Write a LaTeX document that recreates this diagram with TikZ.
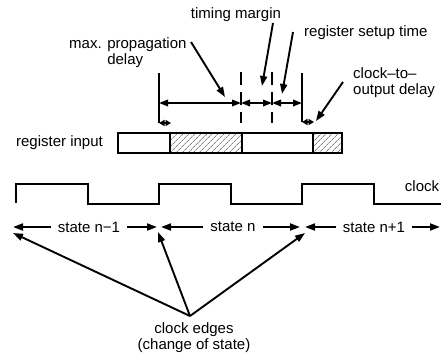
\documentclass[tikz,border=0pt]{standalone}
\usepackage{fontspec}
\setmainfont{Liberation Sans}
\usetikzlibrary{arrows.meta,patterns.meta}
\begin{document}
\begin{tikzpicture}[x=1pt,y=-1pt,
  font=\fontsize{15}{16}\selectfont,
  wire/.style={line width=2pt},
  arr/.style={line width=1.9pt,-{Triangle[length=10pt,width=7pt]}},
  dim/.style={line width=1.9pt,{Triangle[length=9pt,width=6.5pt]}-{Triangle[length=9pt,width=6.5pt]}},
  tick/.style={line width=1.9pt,{Triangle[length=5.5pt,width=6pt]}-{Triangle[length=5.5pt,width=6pt]}},
  guide/.style={line width=1.9pt},
  guidedash/.style={line width=1.9pt,dash pattern=on 13pt off 7pt},
  lbl/.style={inner sep=1pt},
  statelbl/.style={inner xsep=7pt,inner ysep=1pt},
  hatch/.style={pattern={Lines[angle=45,distance=4pt,line width=0.5pt]},pattern color=black!75},
  cell/.style={draw,line width=1.9pt}]
\useasboundingbox (0,0) rectangle (441,354);

% ---- register input bar ----
\path[hatch] (170,133) rectangle (242,153);
\path[hatch] (313,133) rectangle (342,153);
\draw[cell] (118,133) rectangle (342,153);
\draw[cell] (170,133) -- (170,153) (242,133) -- (242,153) (313,133) -- (313,153);
\node[lbl,anchor=east] (reglbl) at (104,143) {register input};

% ---- clock waveform ----
\draw[wire] (16,203) -- (16,184) -- (88,184) -- (88,204) -- (159,204) -- (159,184)
  -- (231,184) -- (231,204) -- (302,204) -- (302,184) -- (374,184) -- (374,204) -- (441,204);
\node[lbl] (clklbl) at (422,186) {clock};

% ---- timing guides ----
\draw[guide] (159,73) -- (159,123);
\draw[guide] (302,73) -- (302,122);
\draw[guidedash] (241,72) -- (241,123);
\draw[guidedash] (272,72) -- (272,123);

\coordinate (dL) at (159,103);
\coordinate (dP) at (241,103);
\coordinate (dM) at (272,103);
\coordinate (dR) at (302,103);
\draw[dim] (dL) -- (dP);
\draw[dim] (dP) -- (dM);
\draw[dim] (dM) -- (dR);

\coordinate (kL0) at (159,123);
\coordinate (kL1) at (171,123);
\coordinate (kR0) at (302,122);
\coordinate (kR1) at (314,122);
\draw[tick] (kL0) -- (kL1);
\draw[tick] (kR0) -- (kR1);

% ---- labels with pointers ----
\node[lbl,anchor=west,align=left] (prop) at (68,53) {max. propagation\\\hphantom{max. }delay};
\coordinate (propA) at (191,42);
\coordinate (propT) at (225,97);
\draw[arr] (propA) -- (propT);

\node[lbl] (margin) at (236,15) {timing margin};
\coordinate (marginA) at (273,23);
\coordinate (marginT) at (262,86);
\draw[arr] (marginA) -- (marginT);

\node[lbl,anchor=west] (setup) at (303,33) {register setup time};
\coordinate (setupA) at (293,32);
\coordinate (setupT) at (282,94);
\draw[arr] (setupA) -- (setupT);

\node[lbl,anchor=west,align=left] (c2o) at (352,83) {clock–to–\\output delay};
\coordinate (c2oA) at (343,82);
\coordinate (c2oT) at (316,121);
\draw[arr] (c2oA) -- (c2oT);

% ---- states ----
\coordinate (s0) at (13,227);
\coordinate (s1) at (157,227);
\coordinate (s2) at (161,227);
\coordinate (s3) at (300,227);
\coordinate (s4) at (305,227);
\coordinate (s5) at (440,227);
\node[statelbl] (stA) at (89,227) {state n−1};
\node[statelbl] (stB) at (233,227) {state n};
\node[statelbl] (stC) at (374,227) {state n+1};
\draw[arr] (stA) -- (s0);
\draw[arr] (stA) -- (s1);
\draw[arr] (stB) -- (s2);
\draw[arr] (stB) -- (s3);
\draw[arr] (stC) -- (s4);
\draw[arr] (stC) -- (s5);

% ---- clock edges ----
\coordinate (hub) at (190,316);
\coordinate (e1) at (13,233);
\coordinate (e2) at (158,232);
\coordinate (e3) at (305,233);
\draw[arr] (hub) -- (e1);
\draw[arr] (hub) -- (e2);
\draw[arr] (hub) -- (e3);
\node[lbl,align=center,anchor=north] (edges) at (194,321) {clock edges\\(change of state)};
\end{tikzpicture}
\end{document}
